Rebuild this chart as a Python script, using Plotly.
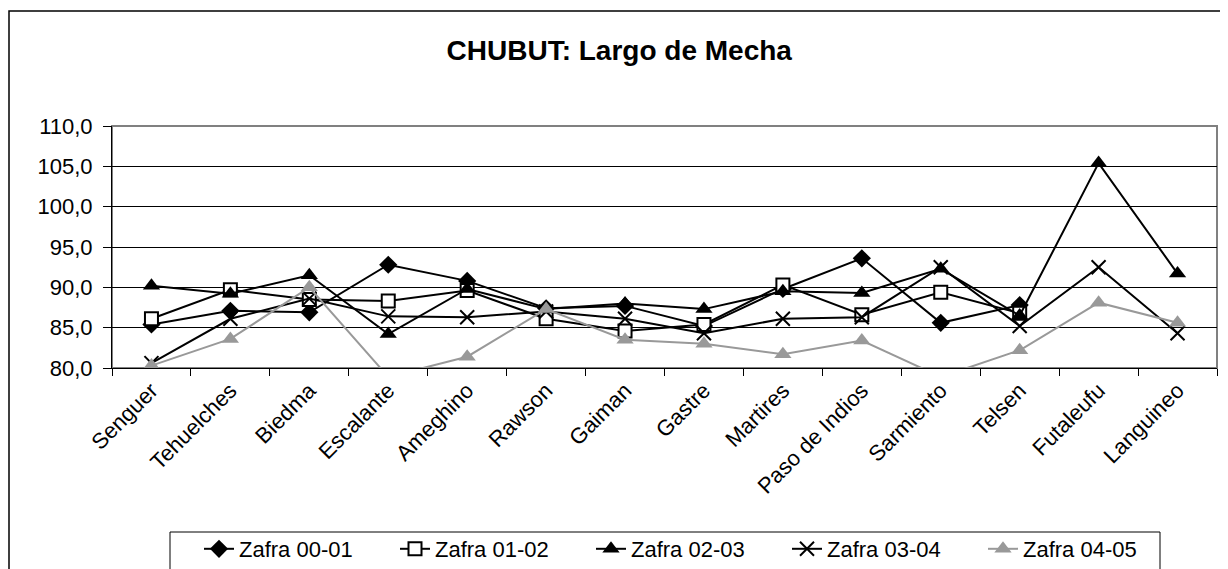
import plotly.graph_objects as go

categories = ["Senguer", "Tehuelches", "Biedma", "Escalante", "Ameghino", "Rawson",
              "Gaiman", "Gastre", "Martires", "Paso de Indios", "Sarmiento", "Telsen",
              "Futaleufu", "Languineo"]

zafra_00_01 = [85.4, 87.1, 86.9, 92.8, 90.8, 87.4, 87.7, 85.2, 89.8, 93.6, 85.6, 87.8, None, None]
zafra_01_02 = [86.1, 89.7, 88.5, 88.3, 89.6, 86.1, 84.6, 85.4, 90.3, 86.6, 89.4, 86.8, None, None]
zafra_02_03 = [90.2, 89.2, 91.5, 84.2, 89.8, 87.3, 88.0, 87.3, 89.5, 89.3, 92.3, 86.5, 105.4, 91.7]
zafra_03_04 = [80.6, 86.1, 88.6, 86.4, 86.3, 87.0, 86.1, 84.3, 86.1, 86.3, 92.5, 85.2, 92.5, 84.3]
zafra_04_05 = [80.3, 83.6, 90.0, 78.9, 81.4, 87.3, 83.5, 83.0, 81.7, 83.4, 78.9, 82.2, 88.1, 85.6]

series_names = ["Zafra 00-01", "Zafra 01-02", "Zafra 02-03", "Zafra 03-04", "Zafra 04-05"]
y_ticks = [80, 85, 90, 95, 100, 105, 110]

FONT = "Arial, Liberation Sans, sans-serif"

# figure offset by the 8px page margin; extends past the window bottom on purpose
W, H = 1220, 590
ML, MR, MT = 104, 11, 118
PH = 242
MB = H - MT - PH
PW = W - ML - MR


def px_x(fx):
    return (fx - ML) / PW


def px_y(fy):
    return (PH - (fy - MT)) / PH


fig = go.Figure()

styles = [
    dict(line=dict(color="black", width=2),
         marker=dict(symbol="diamond", size=14, color="black")),
    dict(line=dict(color="black", width=2),
         marker=dict(symbol="square", size=13, color="white", line=dict(color="black", width=2))),
    dict(line=dict(color="black", width=2),
         marker=dict(symbol="triangle-up", size=15, color="black")),
    dict(line=dict(color="black", width=2),
         marker=dict(symbol="x-thin", size=14, color="black", line=dict(color="black", width=2))),
    dict(line=dict(color="#999999", width=2),
         marker=dict(symbol="triangle-up", size=15, color="#999999")),
]

for name, vals, st in zip(series_names,
                          [zafra_00_01, zafra_01_02, zafra_02_03, zafra_03_04, zafra_04_05],
                          styles):
    fig.add_trace(go.Scatter(x=categories, y=vals, name=name, mode="lines+markers",
                             connectgaps=False, **st))

fig.update_layout(
    width=W, height=H,
    margin=dict(l=ML, r=MR, t=MT, b=MB, pad=0),
    paper_bgcolor="white", plot_bgcolor="white",
    separators=",.",
    font=dict(family=FONT, size=22, color="black"),
    title=dict(text="<b>CHUBUT: Largo de Mecha</b>", x=0.501, xref="container",
               y=1 - 42 / H, yref="container", yanchor="middle", xanchor="center",
               font=dict(family=FONT, size=28, color="black")),
    showlegend=True,
    legend=dict(orientation="h", x=px_x(191), xanchor="left",
                y=px_y(520), yanchor="top", bgcolor="rgba(0,0,0,0)",
                borderwidth=0, font=dict(family=FONT, size=22),
                entrywidth=151, entrywidthmode="pixels", tracegroupgap=0),
)

fig.update_xaxes(
    type="category", range=[-0.5, 13.5], tickson="boundaries", ticks="outside",
    ticklen=7, tickcolor="black", showline=True, linecolor="black", linewidth=1,
    showgrid=False, tickangle=-45, tickfont=dict(family=FONT, size=22),
)
fig.update_yaxes(
    range=[80, 110], tickvals=y_ticks, tickformat=".1f", ticks="outside", ticklen=8,
    tickcolor="black", showline=True, linecolor="black", linewidth=1,
    showgrid=True, gridcolor="black", gridwidth=1, zeroline=False,
    tickfont=dict(family=FONT, size=22), ticklabelstandoff=6,
)

# plot area border (gray), outer chart border, legend box
fig.add_shape(type="rect", xref="paper", yref="paper", x0=0, x1=1, y0=0, y1=1,
              line=dict(color="#808080", width=2), layer="below")
fig.add_shape(type="rect", xref="paper", yref="paper",
              x0=px_x(1), x1=px_x(1218), y0=px_y(640), y1=px_y(3),
              line=dict(color="black", width=1.5), layer="below")
fig.add_shape(type="rect", xref="paper", yref="paper",
              x0=px_x(162), x1=px_x(1152), y0=px_y(640), y1=px_y(524),
              line=dict(color="black", width=1), layer="below")

fig.write_html("out.html")
